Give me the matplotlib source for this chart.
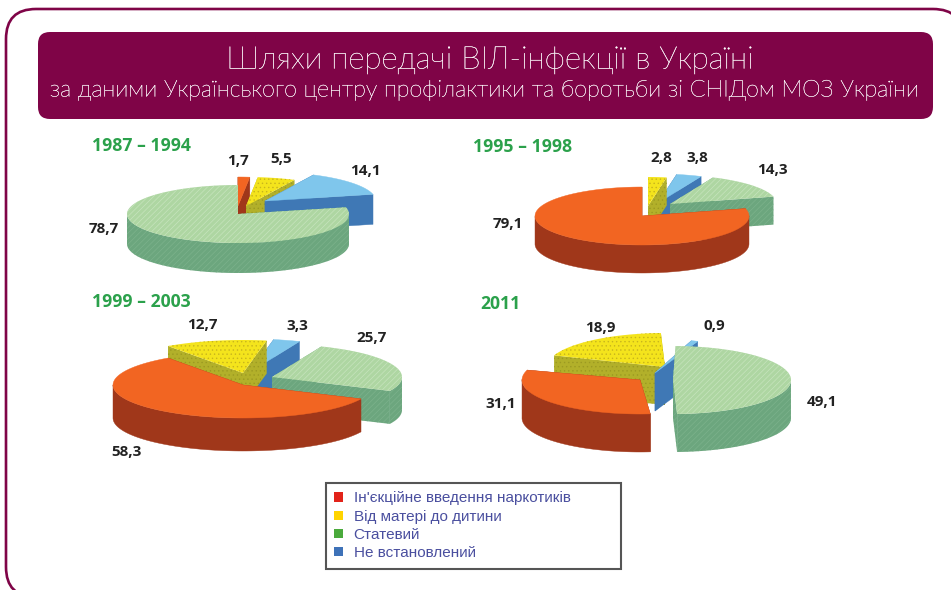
# Routes of HIV transmission in Ukraine, four exploded 3D pies.
import numpy as np
import matplotlib
matplotlib.use("Agg")
import matplotlib.pyplot as plt
import matplotlib.patheffects as pe
from matplotlib.patches import FancyBboxPatch, Polygon, Patch, Rectangle

# Values are percentages, in legend order.
legend_labels = ["Ін'єкційне введення наркотиків", "Від матері до дитини", "Статевий", "Не встановлений"]
periods = ["1987 – 1994", "1995 – 1998", "1999 – 2003", "2011"]
values_1987 = [1.7, 5.5, 78.7, 14.1]
values_1995 = [79.1, 2.8, 14.3, 3.8]
values_1999 = [58.3, 12.7, 25.7, 3.3]
values_2011 = [31.1, 18.9, 49.1, 0.9]
all_values = [values_1987, values_1995, values_1999, values_2011]

PLUM = "#7f0447"
# (top colour, wall colour, hatch, hatch colour, wall hatch colour) per category.
styles = [
    ("#f26522", "#a0371a", None, None, None),
    ("#f4e41c", "#b2b02a", "....", "#c8b51c", "#9c9a22"),
    ("#aed6a2", "#6ca67e", "//////", "#c6e4bd", "#7cb28c"),
    ("#7fc6ec", "#3f78b5", None, None, None),
]
# Geometry of each pie: centre, radii, depth, start angle, clockwise category order,
# per category (dx, dy, turn) and label position, title position.
layouts = [
    dict(c=(238, 214), r=(111, 29), d=30, start=90, order=[0, 1, 3, 2],
         off=[(0, -8, 0), (8, -8, 0), (0, 0, 0), (27, -13, 0)],
         lab=[(238, 161), (281, 159), (104, 229), (365, 171)], title=(92, 146)),
    dict(c=(642, 216), r=(107, 29), d=28, start=90, order=[1, 3, 2, 0],
         off=[(0, 0, 0), (6, -10, 0), (28, -12, 0), (16, -13, 0)],
         lab=[(508, 224), (661, 158), (772, 170), (697, 158)], title=(473, 147)),
    dict(c=(243, 385), r=(130, 33), d=33, start=79.5, order=[3, 2, 0, 1],
         off=[(0, 0, 0), (0, -12, 0), (29, -8, 0), (7, -13, 0)],
         lab=[(127, 452), (202, 325), (372, 338), (297, 326)], title=(92, 302)),
    dict(c=(635, 380), r=(118, 34), d=38, start=92, order=[3, 2, 0, 1],
         off=[(5, 0, 3), (30, -13, 0), (38, 0, 0), (20, -7, -20)],
         lab=[(501, 404), (600, 328), (822, 402), (714, 326)], title=(480, 304)),
]

plt.rcParams["hatch.linewidth"] = 0.5
fig = plt.figure(figsize=(9.51, 5.9), dpi=100, facecolor="white")
ax = fig.add_axes([0, 0, 1, 1])
ax.set_xlim(0, 951)
ax.set_ylim(590, 0)
ax.axis("off")


def face(points, colour, hatch, hatch_colour, z):
    if hatch:
        ax.add_patch(Polygon(points, closed=True, facecolor=colour, edgecolor=hatch_colour,
                             hatch=hatch, linewidth=0, zorder=z))
    else:
        ax.add_patch(Polygon(points, closed=True, facecolor=colour, edgecolor=colour,
                             linewidth=0.3, zorder=z))


def draw_pie(values, lay, z):
    rx, ry = lay["r"]
    depth = lay["d"]
    angle = lay["start"]
    slices = []
    for k in lay["order"]:
        sweep = values[k] * 3.6
        dx, dy, turn = lay["off"][k]
        slices.append((k, angle - sweep + turn, angle + turn, lay["c"][0] + dx, lay["c"][1] + dy))
        angle -= sweep
    # back slices first
    slices.sort(key=lambda s: s[4] - ry * np.sin(np.radians((s[1] + s[2]) / 2)))
    for n, (k, a0, a1, cx, cy) in enumerate(slices):
        top, wall, hatch, hatch_colour, wall_hatch = styles[k]
        t = np.radians(np.linspace(a0, a1, 120))
        x = cx + rx * np.cos(t)
        y = cy - ry * np.sin(t)
        rim = np.column_stack([x, y])
        zz = z + n
        # the two cut faces
        for i in (0, -1):
            face([(cx, cy), rim[i], rim[i] + (0, depth), (cx, cy + depth)], wall, hatch, wall_hatch, zz)
        # outer wall, only the front half of the rim shows
        front = np.sin(t) < 0.02
        if front.any():
            idx = np.where(front)[0]
            for run in np.split(idx, np.where(np.diff(idx) > 1)[0] + 1):
                part = rim[run]
                face(np.vstack([part, (part + (0, depth))[::-1]]), wall, hatch, wall_hatch, zz)
        face(np.vstack([(cx, cy), rim]), top, hatch, hatch_colour, zz + 0.5)


# frame and header
ax.add_patch(FancyBboxPatch((36, 39), 897, 528, boxstyle="round,pad=30,rounding_size=30",
                            facecolor="white", edgecolor=PLUM, linewidth=1.9, zorder=1))
ax.add_patch(FancyBboxPatch((48, 42), 875, 67, boxstyle="round,pad=10,rounding_size=12",
                            facecolor=PLUM, edgecolor="none", zorder=2))
thicker = [pe.withStroke(linewidth=0.2, foreground="white")]
ax.text(490, 60, "Шляхи передачі ВІЛ-інфекції в Україні", color="white", fontsize=22.5,
        family="Lato", weight="light", ha="center", va="center", zorder=3, path_effects=thicker)
ax.text(485, 90, "за даними Українського центру профілактики та боротьби зі СНІДом МОЗ України",
        color="white", fontsize=16.8, family="Lato", weight="light", ha="center", va="center", zorder=3,
        path_effects=thicker)

for i, (values, lay) in enumerate(zip(all_values, layouts)):
    draw_pie(values, lay, 10 + i * 10)
    ax.text(lay["title"][0], lay["title"][1], periods[i], color="#2ba14b", fontsize=12.7,
            family="Open Sans", weight="bold", ha="left", va="center", zorder=60)
    for v, pos in zip(values, lay["lab"]):
        ax.text(pos[0], pos[1], str(v).replace(".", ","), color="#222222", fontsize=11,
                family="Open Sans", weight="bold", ha="center", va="center", zorder=60)

ax.add_patch(Rectangle((326, 483), 295, 86, facecolor="white", edgecolor="#555555", linewidth=1.5, zorder=69))
handles = [Patch(facecolor=c, edgecolor="none") for c in ["#e2231a", "#ffd400", "#4aaa3c", "#3e72b8"]]
leg = ax.legend(handles, legend_labels, loc="upper left", bbox_to_anchor=(326, 483), bbox_transform=ax.transData,
                borderaxespad=0, frameon=False,
                prop={"family": "Liberation Sans", "size": 11}, labelcolor="#4a4f9f",
                handlelength=0.55, handleheight=0.55, handletextpad=0.7, labelspacing=0.27,
                borderpad=0.55)
leg.set_zorder(70)

fig.savefig("out.png", dpi=100)
